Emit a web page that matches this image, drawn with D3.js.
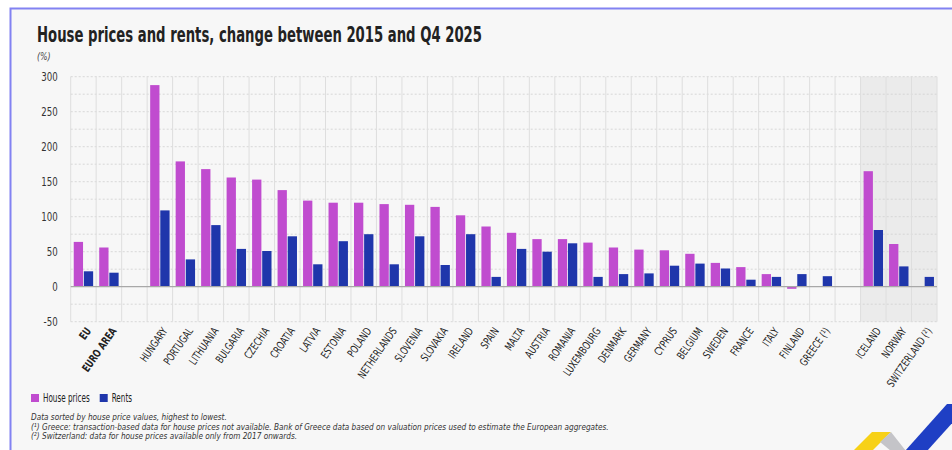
<!DOCTYPE html>
<html>
<head>
<meta charset="utf-8">
<script src="https://cdn.jsdelivr.net/npm/d3@7"></script>
<style>
  body { margin: 0; background: #fff; }
  text { font-family: "DejaVu Sans Condensed", "Liberation Sans Narrow", "Open Sans", sans-serif; }
</style>
</head>
<body>
<svg id="chart" width="952" height="450"></svg>
<script>
// gaps are empty slots between the groups
var categories = ["EU", "EURO AREA", "_gap1", "HUNGARY", "PORTUGAL", "LITHUANIA", "BULGARIA", "CZECHIA",
    "CROATIA", "LATVIA", "ESTONIA", "POLAND", "NETHERLANDS", "SLOVENIA", "SLOVAKIA", "IRELAND", "SPAIN",
    "MALTA", "AUSTRIA", "ROMANIA", "LUXEMBOURG", "DENMARK", "GERMANY", "CYPRUS", "BELGIUM", "SWEDEN",
    "FRANCE", "ITALY", "FINLAND", "GREECE (¹)", "_gap2", "ICELAND", "NORWAY", "SWITZERLAND (²)"];
var housePrices = [64, 56, null, 288, 179, 168, 156, 153, 138, 123, 120, 120, 118, 117, 114, 102, 86,
    77, 68, 68, 63, 56, 53, 52, 47, 34, 28, 18, -3, null, null, 165, 61, null];
var rents = [22, 20, null, 109, 39, 88, 54, 51, 72, 32, 65, 75, 32, 72, 31, 75, 14,
    54, 50, 62, 14, 18, 19, 30, 33, 26, 10, 14, 18, 15, null, 81, 29, 14];
var yTicks = [-50, 0, 50, 100, 150, 200, 250, 300];
var efta = ["ICELAND", "NORWAY", "SWITZERLAND (²)"];
var aggregates = ["EU", "EURO AREA"];
var series = ["House prices", "Rents"];
var footnotes = [
    "Data sorted by house price values, highest to lowest.",
    "(¹) Greece: transaction-based data for house prices not available. Bank of Greece data based on valuation prices used to estimate the European aggregates.",
    "(²) Switzerland: data for house prices available only from 2017 onwards."
];

var colors = { "House prices": "#c04ccf", "Rents": "#1f36ab" };
var narrow = 0.8; // squeeze to mimic the condensed font

var svg = d3.select('#chart');

// frame
svg.append('rect')
    .attr('x', 10.5).attr('y', 8.5)
    .attr('width', 960).attr('height', 460)
    .attr('fill', '#f7f7f7')
    .attr('stroke', '#8282f2')
    .attr('stroke-width', 2);

svg.append('text')
    .attr('x', 37).attr('y', 42)
    .attr('textLength', 445)
    .attr('lengthAdjust', 'spacingAndGlyphs')
    .text('House prices and rents, change between 2015 and Q4 2025')
    .style('font-size', '21px')
    .style('font-weight', 'bold')
    .style('fill', '#222');

svg.append('text')
    .attr('transform', 'translate(37,60) scale(' + narrow + ',1)')
    .text('(%)')
    .style('font-size', '11px')
    .style('font-style', 'italic')
    .style('fill', '#444');

var x = d3.scaleBand().domain(categories).range([70.7, 937]).padding(0);
var xSub = d3.scaleBand().domain(series).range([0, x.bandwidth()])
    .paddingInner(0.08).paddingOuter(0.3);
var y = d3.scaleLinear().domain([-50, 300]).range([321.7, 76.7]);

var plot = svg.append('g');

// shaded EFTA block
plot.append('rect')
    .attr('x', x(efta[0]))
    .attr('y', y(300))
    .attr('width', x.range()[1] - x(efta[0]))
    .attr('height', y(-50) - y(300))
    .attr('fill', '#ebebeb');

// horizontal grid
plot.selectAll('line.hgrid')
    .data(d3.range(-50, 301, 25).filter(d => d !== 0))
    .enter()
        .append('line')
        .attr('class', 'hgrid')
        .attr('x1', x.range()[0]).attr('x2', x.range()[1])
        .attr('y1', d => y(d)).attr('y2', d => y(d))
        .attr('stroke', '#cfcfcf')
        .attr('stroke-dasharray', '2,2')
        .attr('stroke-width', 0.8);

// vertical grid at slot edges
var edges = categories.map(c => x(c)).concat([x.range()[1]]);
plot.selectAll('line.vgrid')
    .data(edges)
    .enter()
        .append('line')
        .attr('class', 'vgrid')
        .attr('x1', d => d).attr('x2', d => d)
        .attr('y1', y(300)).attr('y2', y(-50))
        .attr('stroke', '#dedede')
        .attr('stroke-width', 1);

var yAxis = plot.append('g')
    .attr('transform', 'translate(' + x.range()[0] + ',0)')
    .call(d3.axisLeft(y).tickValues(yTicks).tickSize(0).tickPadding(0).tickFormat(d => String(d)));
yAxis.select('.domain').remove();
yAxis.selectAll('.tick text')
    .attr('x', null)
    .attr('transform', 'translate(-13,0) scale(' + narrow + ',1)')
    .style('font-size', '12px')
    .style('fill', '#333')
    .style('font-family', '"DejaVu Sans Condensed", sans-serif');

// bars
var rows = categories.map((c, i) => ({ cat: c, values: [
    { key: series[0], v: housePrices[i] },
    { key: series[1], v: rents[i] }
]}));

var groups = plot.selectAll('g.cat')
    .data(rows)
    .enter()
        .append('g')
        .attr('class', 'cat')
        .attr('transform', d => 'translate(' + x(d.cat) + ',0)');

groups.selectAll('rect')
    .data(d => d.values.filter(e => e.v !== null))
    .enter()
        .append('rect')
        .attr('x', d => xSub(d.key))
        .attr('width', xSub.bandwidth())
        .attr('y', d => y(Math.max(0, d.v)))
        .attr('height', d => Math.abs(y(d.v) - y(0)))
        .attr('fill', d => colors[d.key]);

// zero line
plot.append('line')
    .attr('x1', x.range()[0]).attr('x2', x.range()[1])
    .attr('y1', y(0)).attr('y2', y(0))
    .attr('stroke', '#a8a8a8')
    .attr('stroke-width', 1.2);

// category labels
plot.selectAll('text.cat')
    .data(categories.filter(c => c.charAt(0) !== '_'))
    .enter()
        .append('text')
        .attr('class', 'cat')
        .attr('transform', d => 'translate(' + (x(d) + x.bandwidth() / 2 + 5) + ',' + (y(-50) + 7) +
            ') rotate(-55) scale(' + narrow + ',1)')
        .attr('dy', '0.35em')
        .attr('text-anchor', 'end')
        .text(d => d)
        .style('font-size', '11px')
        .style('font-weight', d => aggregates.indexOf(d) >= 0 ? 'bold' : 'normal')
        .style('fill', '#222');

// legend
var legend = svg.append('g').attr('transform', 'translate(31,394)');
var lx = 0;
series.forEach((s) => {
    legend.append('rect')
        .attr('x', lx).attr('y', 0)
        .attr('width', 8).attr('height', 8)
        .attr('fill', colors[s]);
    var t = legend.append('text')
        .attr('transform', 'translate(' + (lx + 12) + ',8) scale(0.7,1)')
        .text(s)
        .style('font-size', '11.5px')
        .style('fill', '#222');
    lx += 12 + t.node().getComputedTextLength() * 0.7 + 10;
});

svg.selectAll('text.note')
    .data(footnotes)
    .enter()
        .append('text')
        .attr('class', 'note')
        .attr('transform', (d, i) => 'translate(31,' + (420 + i * 9.5) + ') scale(0.95,1)')
        .text(d => d)
        .style('font-size', '8.6px')
        .style('font-style', 'italic')
        .style('fill', '#333');

// corner ribbon
var ribbon = svg.append('g');
ribbon.append('polygon').attr('points', '853,451 872,432 891,432 872,451').attr('fill', '#f7d117');
ribbon.append('polygon').attr('points', '891,432 906,451 891,451 880,442').attr('fill', '#c4c4c8');
ribbon.append('polygon').attr('points', '905,451 947,404 955,404 955,420 927,451').attr('fill', '#1f3fc4');
</script>
</body>
</html>
